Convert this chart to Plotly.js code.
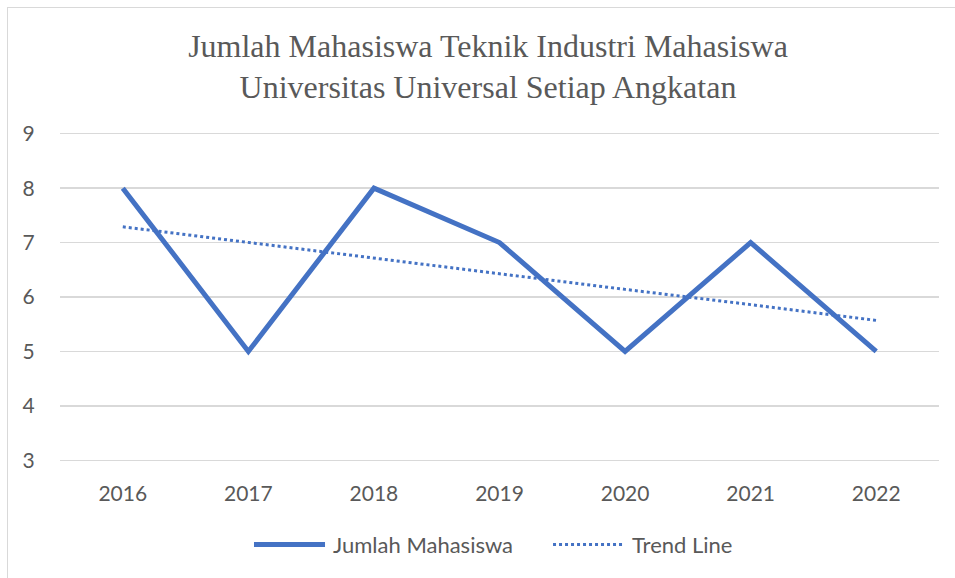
<!DOCTYPE html>
<html>
<head>
<meta charset="utf-8">
<script src="https://cdn.plot.ly/plotly-3.0.1.min.js"></script>
<style>
html,body{margin:0;padding:0;background:#fff;overflow:hidden;}
#chart{width:955px;height:578px;}
#frame{position:absolute;left:7px;top:7px;width:1100px;height:800px;border:1px solid #d9d9d9;pointer-events:none;}
</style>
</head>
<body>
<div id="chart"></div>
<div id="frame"></div>
<script>
const years = ['2016','2017','2018','2019','2020','2021','2022'];
const jumlahMahasiswa = [8, 5, 8, 7, 5, 7, 5];
const trendLine = [7.29, 7.0, 6.71, 6.43, 6.14, 5.86, 5.57];
const yTicks = [3, 4, 5, 6, 7, 8, 9];
const seriesNames = ['Jumlah Mahasiswa', 'Trend Line'];

const blue = '#4472C4';
const textGray = '#595959';
const tickFont = {family: 'Lato, "Open Sans", sans-serif', size: 21, color: textGray};
const legendFont = {family: 'Lato, "Open Sans", sans-serif', size: 22, color: textGray};

const traces = [
  {x: years, y: jumlahMahasiswa, type: 'scatter', mode: 'lines', name: seriesNames[0],
   line: {color: blue, width: 5}},
  {x: years, y: trendLine, type: 'scatter', mode: 'lines', name: seriesNames[1],
   line: {color: blue, width: 3, dash: 'dot'}}
];

// custom legend (longer line samples, like the reference)
const legY = -0.2456;
const layout = {
  width: 955, height: 578,
  margin: {l: 60, r: 16, t: 131, b: 115},
  paper_bgcolor: '#fff', plot_bgcolor: '#fff',
  title: {
    text: 'Jumlah Mahasiswa Teknik Industri Mahasiswa<br>Universitas Universal Setiap Angkatan',
    font: {family: '"Liberation Serif", "Times New Roman", serif', size: 32, color: textGray},
    x: 0.511, xanchor: 'center', y: 0.902, yanchor: 'top'
  },
  xaxis: {
    type: 'category', range: [-0.5, 6.5], showgrid: false, zeroline: false,
    showline: false, ticks: 'outside', ticklen: 12, tickcolor: 'rgba(0,0,0,0)',
    tickfont: tickFont, fixedrange: true
  },
  yaxis: {
    range: [2.95, 9.05], tickvals: yTicks, showgrid: true, gridcolor: '#d9d9d9', gridwidth: 1.5,
    zeroline: false, showline: false, ticks: 'outside', ticklen: 20, tickcolor: 'rgba(0,0,0,0)',
    tickfont: tickFont, fixedrange: true
  },
  showlegend: false,
  shapes: [
    {type: 'line', xref: 'paper', yref: 'paper', x0: 0.2207, x1: 0.3015, y0: legY, y1: legY,
     line: {color: blue, width: 5}},
    {type: 'line', xref: 'paper', yref: 'paper', x0: 0.5609, x1: 0.6394, y0: legY, y1: legY,
     line: {color: blue, width: 3, dash: 'dot'}}
  ],
  annotations: [
    {xref: 'paper', yref: 'paper', x: 0.3083, y: legY, xanchor: 'left', yanchor: 'middle',
     text: seriesNames[0], showarrow: false, font: legendFont},
    {xref: 'paper', yref: 'paper', x: 0.6485, y: legY, xanchor: 'left', yanchor: 'middle',
     text: seriesNames[1], showarrow: false, font: legendFont}
  ]
};

Plotly.newPlot('chart', traces, layout, {displayModeBar: false, staticPlot: true});
</script>
</body>
</html>
